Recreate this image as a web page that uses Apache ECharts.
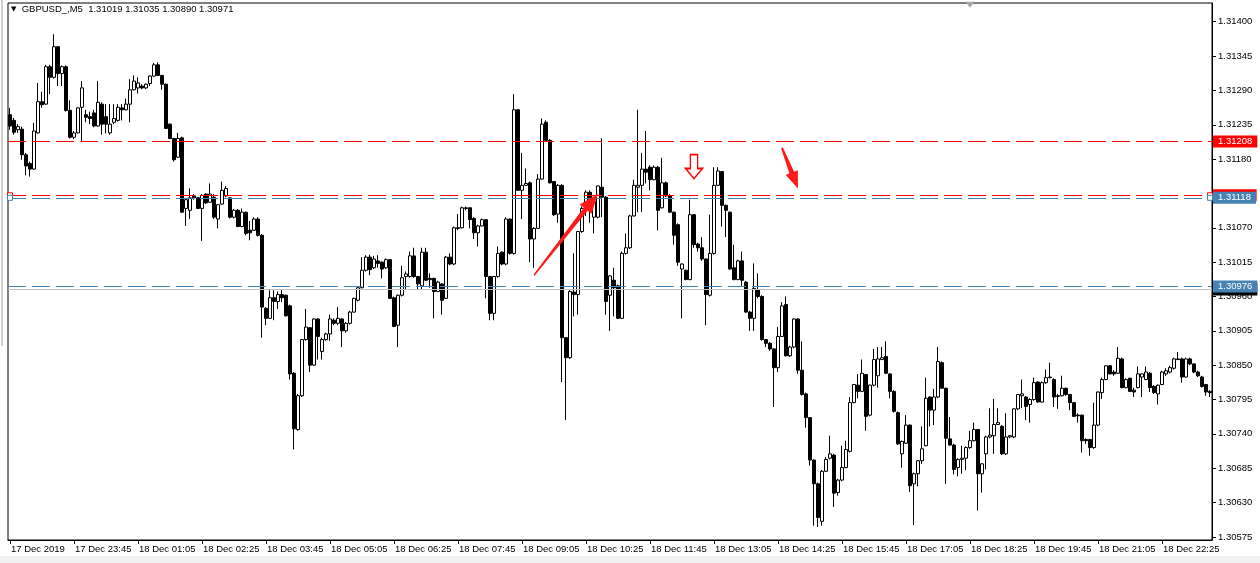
<!DOCTYPE html>
<html><head><meta charset="utf-8">
<script src="https://cdn.jsdelivr.net/npm/echarts@6/dist/echarts.min.js"></script>
<style>html,body{margin:0;padding:0;background:#fff}#c{width:1260px;height:563px}</style>
</head><body><div id="c"></div>
<script>
const symbolTitle = 'GBPUSD_,M5';
const titleValues = ['1.31019', '1.31035', '1.30890', '1.30971'];
const xTickLabels = ['17 Dec 2019','17 Dec 23:45','18 Dec 01:05','18 Dec 02:25','18 Dec 03:45','18 Dec 05:05','18 Dec 06:25','18 Dec 07:45','18 Dec 09:05','18 Dec 10:25','18 Dec 11:45','18 Dec 13:05','18 Dec 14:25','18 Dec 15:45','18 Dec 17:05','18 Dec 18:25','18 Dec 19:45','18 Dec 21:05','18 Dec 22:25'];
const yTicks = [1.31400,1.31345,1.31290,1.31235,1.31180,1.31125,1.31070,1.31015,1.30960,1.30905,1.30850,1.30795,1.30740,1.30685,1.30630,1.30575];

const opens = [1.31251,1.31242,1.31227,1.31228,1.31187,1.31173,1.31164,1.31222,1.31272,1.31268,1.31328,1.31311,1.31360,1.31317,1.31328,1.31258,1.31215,1.31222,1.31263,1.31251,
1.31248,1.31254,1.31233,1.31268,1.31248,1.31222,1.31239,1.31242,1.31262,1.31259,1.31268,1.31291,1.31294,1.31297,1.31294,1.31301,1.31313,1.31331,1.31314,1.31300,
1.31236,1.31213,1.31183,1.31214,1.31101,1.31098,1.31121,1.31118,1.31101,1.31124,1.31111,1.31119,1.31084,1.31108,1.31121,1.31118,1.31087,1.31098,1.31072,1.31095,
1.31066,1.31066,1.31084,1.31058,1.30941,1.30925,1.30958,1.30952,1.30963,1.30962,1.30945,1.30837,1.30747,1.30801,1.30891,1.30910,1.30850,1.30924,1.30872,1.30891,
1.30900,1.30922,1.30917,1.30924,1.30905,1.30917,1.30935,1.30954,1.30974,1.31002,1.31023,1.31006,1.31017,1.31015,1.31006,1.31019,1.30958,1.30914,1.30962,1.30992,
1.30992,1.31025,1.30992,1.30977,1.31031,1.30989,1.30989,1.30968,1.30980,1.30957,1.31023,1.31012,1.31070,1.31070,1.31101,1.31102,1.31085,1.31062,1.31073,1.31083,
1.30992,1.30933,1.30992,1.31031,1.31012,1.31084,1.31029,1.31259,1.31130,1.31138,1.31142,1.31052,1.31069,1.31148,1.31239,1.31210,1.31144,1.31092,1.31138,1.30894,
1.30862,1.30967,1.30963,1.31064,1.31101,1.31127,1.31087,1.31087,1.31135,1.31119,1.30962,1.30986,1.30977,1.30925,1.31029,1.31038,1.31089,1.31135,1.31138,1.31164,
1.31167,1.31147,1.31167,1.31102,1.31142,1.31121,1.31095,1.31075,1.31004,1.31002,1.30987,1.31091,1.31044,1.31038,1.31020,1.30962,1.31029,1.31138,1.31160,1.31106,
1.31095,1.31006,1.30987,1.31017,1.30983,1.30935,1.30925,1.30971,1.30960,1.30891,1.30885,1.30876,1.30846,1.30896,1.30947,1.30865,1.30879,1.30924,1.30842,1.30804,
1.30766,1.30698,1.30660,1.30600,1.30680,1.30701,1.30706,1.30646,1.30666,1.30686,1.30712,1.30790,1.30818,1.30808,1.30835,1.30770,1.30818,1.30833,1.30859,1.30864,
1.30836,1.30808,1.30774,1.30708,1.30725,1.30754,1.30660,1.30676,1.30697,1.30721,1.30799,1.30778,1.30799,1.30854,1.30813,1.30732,1.30722,1.30686,1.30699,1.30701,
1.30718,1.30729,1.30747,1.30676,1.30708,1.30735,1.30737,1.30755,1.30752,1.30708,1.30735,1.30735,1.30780,1.30801,1.30799,1.30787,1.30795,1.30823,1.30791,1.30822,
1.30830,1.30827,1.30801,1.30801,1.30813,1.30803,1.30790,1.30770,1.30770,1.30731,1.30731,1.30718,1.30754,1.30806,1.30827,1.30849,1.30839,1.30837,1.30860,1.30814,
1.30829,1.30810,1.30814,1.30831,1.30827,1.30837,1.30816,1.30804,1.30819,1.30836,1.30839,1.30845,1.30860,1.30860,1.30831,1.30860,1.30852,1.30839,1.30831,1.30819,
1.30808];
const closes = [1.31233,1.31223,1.31232,1.31187,1.31169,1.31164,1.31225,1.31272,1.31267,1.31328,1.31311,1.31360,1.31317,1.31328,1.31258,1.31215,1.31222,1.31262,1.31294,1.31247,
1.31245,1.31233,1.31271,1.31236,1.31236,1.31236,1.31245,1.31263,1.31259,1.31268,1.31291,1.31305,1.31302,1.31294,1.31300,1.31313,1.31331,1.31314,1.31300,1.31229,
1.31213,1.31179,1.31213,1.31095,1.31115,1.31118,1.31118,1.31101,1.31122,1.31110,1.31124,1.31087,1.31107,1.31130,1.31133,1.31087,1.31098,1.31072,1.31095,1.31061,
1.31062,1.31084,1.31058,1.30943,1.30925,1.30958,1.30952,1.30963,1.30958,1.30929,1.30836,1.30748,1.30801,1.30891,1.30911,1.30850,1.30924,1.30896,1.30891,1.30900,
1.30924,1.30917,1.30925,1.30905,1.30917,1.30935,1.30957,1.30974,1.31002,1.31023,1.31003,1.31020,1.31013,1.31004,1.31019,1.30957,1.30912,1.30962,1.30990,1.30996,
1.31025,1.30992,1.30980,1.31031,1.30986,1.30987,1.30968,1.30983,1.30954,1.31023,1.31012,1.31070,1.31069,1.31102,1.31102,1.31083,1.31062,1.31073,1.31083,1.30992,
1.30933,1.30992,1.31029,1.31012,1.31084,1.31029,1.31259,1.31130,1.31138,1.31141,1.31052,1.31069,1.31148,1.31236,1.31210,1.31142,1.31091,1.31138,1.30894,1.30862,
1.30968,1.30963,1.31064,1.31101,1.31127,1.31115,1.31112,1.31137,1.31119,1.30952,1.30993,1.30974,1.30925,1.31029,1.31038,1.31089,1.31138,1.31138,1.31164,1.31159,
1.31147,1.31167,1.31098,1.31142,1.31121,1.31095,1.31058,1.31015,1.31012,1.30987,1.31091,1.31043,1.31038,1.31020,1.30963,1.31029,1.31138,1.31161,1.31106,1.31098,
1.31004,1.30987,1.31017,1.30986,1.30935,1.30925,1.30973,1.30960,1.30891,1.30885,1.30876,1.30846,1.30896,1.30945,1.30865,1.30879,1.30924,1.30842,1.30803,1.30766,
1.30698,1.30660,1.30606,1.30680,1.30699,1.30708,1.30645,1.30666,1.30686,1.30715,1.30790,1.30819,1.30808,1.30837,1.30768,1.30818,1.30859,1.30860,1.30862,1.30837,
1.30808,1.30776,1.30724,1.30728,1.30754,1.30657,1.30676,1.30697,1.30716,1.30797,1.30778,1.30799,1.30856,1.30813,1.30733,1.30722,1.30683,1.30699,1.30701,1.30718,
1.30729,1.30747,1.30676,1.30692,1.30735,1.30738,1.30755,1.30758,1.30708,1.30735,1.30737,1.30780,1.30803,1.30804,1.30784,1.30795,1.30822,1.30791,1.30822,1.30830,
1.30831,1.30799,1.30800,1.30813,1.30803,1.30790,1.30768,1.30769,1.30729,1.30729,1.30718,1.30754,1.30807,1.30827,1.30849,1.30836,1.30836,1.30861,1.30814,1.30827,
1.30808,1.30807,1.30836,1.30836,1.30839,1.30814,1.30806,1.30818,1.30839,1.30841,1.30846,1.30860,1.30859,1.30831,1.30860,1.30852,1.30839,1.30833,1.30816,1.30807,
1.30806];
const lows = [1.31227,1.31219,1.31222,1.31179,1.31154,1.31152,1.31163,1.31221,1.31262,1.31267,1.31284,1.31309,1.31297,1.31297,1.31256,1.31213,1.31212,1.31221,1.31207,1.31239,
1.31236,1.31231,1.31232,1.31219,1.31221,1.31219,1.31236,1.31240,1.31242,1.31258,1.31239,1.31290,1.31285,1.31292,1.31292,1.31297,1.31312,1.31313,1.31291,1.31228,
1.31212,1.31176,1.31182,1.31094,1.31073,1.31084,1.31115,1.31100,1.31049,1.31108,1.31110,1.31084,1.31069,1.31107,1.31119,1.31085,1.31085,1.31071,1.31071,1.31058,
1.31050,1.31065,1.31056,1.30894,1.30914,1.30924,1.30922,1.30940,1.30951,1.30928,1.30827,1.30715,1.30745,1.30799,1.30889,1.30839,1.30849,1.30859,1.30859,1.30889,
1.30889,1.30914,1.30914,1.30879,1.30902,1.30915,1.30934,1.30952,1.30973,1.31000,1.30994,1.31004,1.31006,1.30989,1.31004,1.30956,1.30911,1.30879,1.30960,1.30971,
1.30990,1.30990,1.30971,1.30971,1.30985,1.30974,1.30925,1.30967,1.30931,1.30956,1.31010,1.31010,1.31066,1.31069,1.31098,1.31069,1.31052,1.31040,1.31072,1.30957,
1.30922,1.30922,1.30990,1.31010,1.31010,1.31027,1.31027,1.31129,1.31084,1.31137,1.31015,1.31006,1.31068,1.31147,1.31209,1.31141,1.31089,1.31078,1.30823,1.30762,
1.30860,1.30928,1.30931,1.31062,1.31089,1.31078,1.31061,1.31085,1.31087,1.30931,1.30905,1.30928,1.30924,1.30924,1.31027,1.31036,1.31088,1.31095,1.31095,1.31141,
1.31130,1.31146,1.31066,1.31101,1.31119,1.31094,1.31043,1.31009,1.30925,1.30986,1.30986,1.31038,1.31032,1.31017,1.30914,1.30960,1.31027,1.31137,1.31072,1.31055,
1.31003,1.30986,1.30986,1.30977,1.30934,1.30905,1.30905,1.30957,1.30889,1.30879,1.30873,1.30783,1.30839,1.30895,1.30864,1.30863,1.30877,1.30836,1.30801,1.30750,
1.30689,1.30593,1.30591,1.30593,1.30679,1.30699,1.30623,1.30641,1.30664,1.30685,1.30710,1.30789,1.30797,1.30807,1.30745,1.30768,1.30816,1.30814,1.30858,1.30836,
1.30797,1.30774,1.30722,1.30686,1.30724,1.30647,1.30594,1.30656,1.30692,1.30720,1.30752,1.30754,1.30797,1.30812,1.30660,1.30721,1.30675,1.30672,1.30676,1.30682,
1.30716,1.30728,1.30617,1.30646,1.30683,1.30733,1.30708,1.30754,1.30706,1.30706,1.30733,1.30733,1.30778,1.30781,1.30762,1.30758,1.30793,1.30790,1.30790,1.30820,
1.30829,1.30783,1.30780,1.30800,1.30801,1.30778,1.30767,1.30758,1.30710,1.30724,1.30705,1.30716,1.30752,1.30796,1.30826,1.30835,1.30833,1.30836,1.30813,1.30813,
1.30807,1.30799,1.30813,1.30799,1.30826,1.30807,1.30804,1.30787,1.30818,1.30833,1.30837,1.30843,1.30858,1.30822,1.30830,1.30850,1.30837,1.30831,1.30814,1.30801,
1.30799];
const highs = [1.31262,1.31246,1.31236,1.31232,1.31190,1.31176,1.31238,1.31302,1.31288,1.31331,1.31331,1.31380,1.31361,1.31330,1.31330,1.31274,1.31225,1.31263,1.31305,1.31259,
1.31256,1.31259,1.31305,1.31271,1.31268,1.31268,1.31268,1.31268,1.31268,1.31277,1.31308,1.31314,1.31311,1.31300,1.31301,1.31314,1.31334,1.31335,1.31315,1.31301,
1.31237,1.31214,1.31222,1.31216,1.31118,1.31133,1.31124,1.31119,1.31124,1.31125,1.31141,1.31124,1.31108,1.31144,1.31137,1.31119,1.31100,1.31100,1.31101,1.31096,
1.31081,1.31087,1.31087,1.31060,1.30943,1.30970,1.30970,1.30968,1.30970,1.30963,1.30947,1.30839,1.30804,1.30892,1.30940,1.30911,1.30925,1.30925,1.30894,1.30902,
1.30931,1.30925,1.30943,1.30925,1.30919,1.30937,1.30958,1.30975,1.31023,1.31026,1.31027,1.31025,1.31026,1.31016,1.31021,1.31020,1.30960,1.30963,1.31009,1.31000,
1.31032,1.31038,1.30993,1.31038,1.31038,1.30997,1.30990,1.30985,1.30981,1.31025,1.31029,1.31072,1.31092,1.31104,1.31104,1.31103,1.31087,1.31075,1.31085,1.31084,
1.30993,1.30993,1.31040,1.31032,1.31087,1.31085,1.31284,1.31260,1.31190,1.31165,1.31144,1.31071,1.31156,1.31245,1.31242,1.31212,1.31145,1.31140,1.31140,1.30895,
1.30970,1.31029,1.31065,1.31104,1.31130,1.31130,1.31114,1.31138,1.31213,1.31121,1.30994,1.31006,1.30979,1.31032,1.31061,1.31091,1.31147,1.31259,1.31190,1.31225,
1.31170,1.31170,1.31169,1.31182,1.31144,1.31124,1.31096,1.31077,1.31013,1.31003,1.31115,1.31092,1.31046,1.31055,1.31021,1.31091,1.31167,1.31167,1.31161,1.31107,
1.31096,1.31043,1.31019,1.31032,1.30985,1.30937,1.31013,1.30997,1.30962,1.30892,1.30887,1.30877,1.30911,1.30951,1.30960,1.30881,1.30925,1.30925,1.30888,1.30806,
1.30767,1.30699,1.30662,1.30682,1.30703,1.30737,1.30708,1.30668,1.30721,1.30729,1.30799,1.30820,1.30836,1.30859,1.30836,1.30819,1.30876,1.30879,1.30879,1.30888,
1.30837,1.30810,1.30776,1.30729,1.30770,1.30755,1.30678,1.30698,1.30752,1.30830,1.30800,1.30812,1.30879,1.30856,1.30814,1.30767,1.30724,1.30701,1.30721,1.30720,
1.30745,1.30758,1.30748,1.30693,1.30737,1.30781,1.30796,1.30781,1.30754,1.30773,1.30738,1.30781,1.30804,1.30827,1.30800,1.30797,1.30830,1.30824,1.30824,1.30843,
1.30854,1.30829,1.30804,1.30833,1.30814,1.30804,1.30791,1.30773,1.30771,1.30733,1.30732,1.30790,1.30808,1.30830,1.30850,1.30850,1.30842,1.30879,1.30862,1.30829,
1.30830,1.30814,1.30848,1.30837,1.30848,1.30839,1.30818,1.30819,1.30841,1.30845,1.30849,1.30862,1.30871,1.30862,1.30862,1.30862,1.30853,1.30841,1.30833,1.30820,
1.30810];

// horizontal price levels drawn on the chart
const redLevelPrices = [1.31208, 1.31122];
const blueLevelPrices = [1.31118, 1.30976];
const bidPrice = 1.30971;
// annotations in (bar index, price): tail bar, tail price, tip bar, tip price
const arrows = [[131, 1.30994, 147, 1.31125], [193, 1.31198, 197, 1.31133]];
const hollowArrowAt = [171, 1.31168];
const shiftMarkAt = [240, 1.31427];

// 5-minute bar times
const categories = [];
for (let i = 0; i < opens.length; i++) {
  const m = 22 * 60 + 25 + 5 * i;
  const day = 17 + Math.floor(m / 1440);
  const mm = m % 1440;
  categories.push(day + ' Dec ' + String(Math.floor(mm / 60)).padStart(2, '0') + ':' + String(mm % 60).padStart(2, '0'));
}
const candleData = opens.map((o, i) => [o, closes[i], lows[i], highs[i]]);

const FONT = 'Liberation Sans';
const FS = 9.5;
const RED = '#ff0000', BLUE = '#4682b4';
const dash = [18, 6];
// arrow geometry (px): tail width, neck width, head width, head length
const arrowShapes = [[1.5, 5, 15, 20], [2, 5, 13, 17]];

function levelSeries(price, color, bg, type, z) {
  return {
    type: 'line', data: [], silent: true, z: z,
    markLine: {
      silent: true, symbol: ['none', 'none'], animation: false, precision: 5,
      lineStyle: { color: color, type: type, width: 1, opacity: 1 },
      label: {
        show: true, position: 'end', distance: 1,
        formatter: price.toFixed(5),
        color: '#ffffff', backgroundColor: bg,
        padding: [1, 5, 0, 5], lineHeight: 11,
        fontSize: FS, fontFamily: FONT
      },
      emphasis: { disabled: true },
      data: [{ yAxis: price, lineStyle: { color: color } }]
    }
  };
}

const chart = echarts.init(document.getElementById('c'), null, { renderer: 'canvas', width: 1260, height: 563 });
chart.setOption({
  animation: false,
  backgroundColor: '#ffffff',
  title: {
    text: '{t|▼}  ' + symbolTitle + '  ' + titleValues.join(' '),
    left: 11, top: 4, padding: 0,
    textStyle: { fontFamily: FONT, fontSize: FS, fontWeight: 'normal', color: '#000',
      rich: { t: { fontSize: 7, color: '#000', fontFamily: 'DejaVu Sans' } } }
  },
  grid: { left: 8, top: 3, width: 1204, height: 537, show: true, borderColor: '#000', borderWidth: 1, backgroundColor: '#fff' },
  xAxis: {
    type: 'category', data: categories, boundaryGap: true,
    axisLine: { show: true, lineStyle: { color: '#000', width: 1 } },
    axisTick: { show: true, interval: 15, alignWithLabel: true, length: 4, lineStyle: { color: '#000' } },
    axisLabel: {
      interval: 15, align: 'left', margin: 4, padding: [0, 0, 0, 1],
      formatter: (v, i) => xTickLabels[Math.round(i / 16)],
      fontSize: FS, fontFamily: FONT, color: '#000'
    },
    splitLine: { show: false }
  },
  yAxis: {
    type: 'value', position: 'right', min: 1.30570, max: 1.31430, scale: true,
    axisLine: { show: true, lineStyle: { color: '#000', width: 1 } },
    axisTick: { show: true, customValues: yTicks, length: 4, lineStyle: { color: '#000' } },
    axisLabel: { customValues: yTicks, formatter: v => v.toFixed(5), margin: 6, fontSize: FS, fontFamily: FONT, color: '#000' },
    splitLine: { show: false }
  },
  graphic: [
    { type: 'rect', shape: { x: 0, y: 556, width: 1260, height: 7 }, style: { fill: '#f0f0f0' }, silent: true },
    { type: 'line', shape: { x1: 2, y1: 0, x2: 2, y2: 346 }, style: { stroke: '#a0a0a0', lineWidth: 1 }, silent: true }
  ],
  series: [
    levelSeries(redLevelPrices[0], RED, RED, dash, 1),
    levelSeries(redLevelPrices[1], RED, RED, dash, 1),
    levelSeries(blueLevelPrices[0], BLUE, BLUE, dash, 1),
    levelSeries(bidPrice, '#c0c0c0', '#000000', 'solid', 1),
    levelSeries(blueLevelPrices[1], BLUE, BLUE, dash, 1),
  {
    type: 'candlestick',
    data: candleData,
    barWidth: 3,
    z: 3,
    itemStyle: { color: '#ffffff', color0: '#000000', borderColor: '#000000', borderColor0: '#000000', borderWidth: 1 },
    emphasis: { disabled: true },
    markPoint: {
      silent: true, animation: false, label: { show: false },
      data: [
        { coord: [0, redLevelPrices[1]], symbol: 'rect', symbolSize: 5, itemStyle: { color: '#fff', borderColor: RED, borderWidth: 1 } },
        { coord: [0, blueLevelPrices[0]], symbol: 'rect', symbolSize: 5, itemStyle: { color: '#fff', borderColor: BLUE, borderWidth: 1 } },
        { coord: [300, redLevelPrices[1]], symbol: 'rect', symbolSize: 5, itemStyle: { color: '#fff', borderColor: RED, borderWidth: 1 } },
        { coord: [300, blueLevelPrices[0]], symbol: 'rect', symbolSize: 5, itemStyle: { color: '#fff', borderColor: BLUE, borderWidth: 1 } },
        { coord: hollowArrowAt, symbol: 'path://M4,0 L10,0 L10,11 L14,11 L7,19 L0,11 L4,11 Z', symbolSize: [17, 24],
          itemStyle: { color: '#fff', borderColor: RED, borderWidth: 1.5 } },
        { coord: shiftMarkAt, symbol: 'triangle', symbolRotate: 180, symbolSize: [9, 6], itemStyle: { color: '#a8a8a8' } }
      ]
    }
  }, {
    type: 'custom',
    data: arrows,
    silent: true,
    clip: false,
    z: 5,
    renderItem: function (params, api) {
      const a = api.coord([api.value(0), api.value(1)]);
      const b = api.coord([api.value(2), api.value(3)]);
      const s = arrowShapes[params.dataIndex];
      const dx = b[0] - a[0], dy = b[1] - a[1];
      const L = Math.hypot(dx, dy), ux = dx / L, uy = dy / L, nx = -uy, ny = ux;
      const bx = b[0] - ux * s[3], by = b[1] - uy * s[3];
      const pts = [
        [a[0] + nx * s[0] / 2, a[1] + ny * s[0] / 2],
        [bx + nx * s[1] / 2, by + ny * s[1] / 2],
        [bx + nx * s[2] / 2, by + ny * s[2] / 2],
        [b[0], b[1]],
        [bx - nx * s[2] / 2, by - ny * s[2] / 2],
        [bx - nx * s[1] / 2, by - ny * s[1] / 2],
        [a[0] - nx * s[0] / 2, a[1] - ny * s[0] / 2]
      ];
      return { type: 'polygon', shape: { points: pts }, style: { fill: '#ff1a1a' } };
    }
  }]
});
</script>
</body></html>
